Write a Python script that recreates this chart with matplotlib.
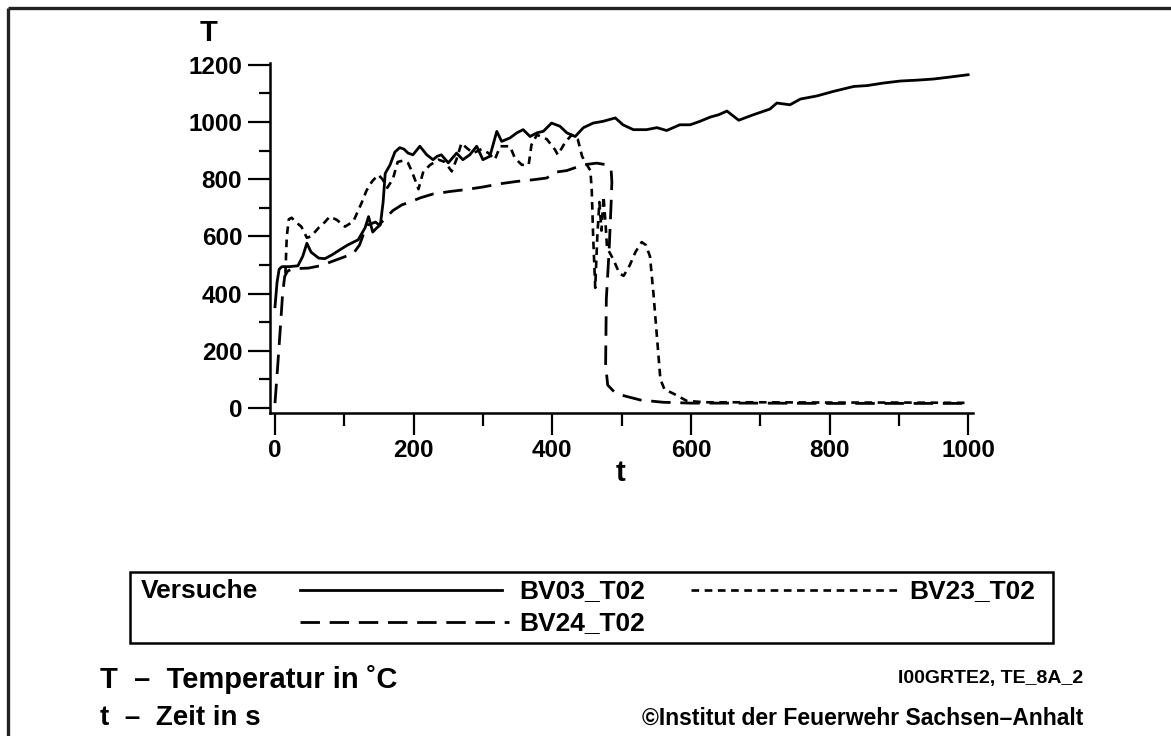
import matplotlib
matplotlib.use("Agg")
import matplotlib.pyplot as plt
from matplotlib.ticker import MultipleLocator
from matplotlib.patches import Rectangle

plt.rcParams['font.family'] = ['Liberation Sans', 'DejaVu Sans']
plt.rcParams['font.weight'] = 'bold'
plt.rcParams['lines.scale_dashes'] = False

# ---- data ----
t_bv03 = [0, 3, 6, 10, 20, 33, 40, 46, 52, 63, 72, 82, 95, 105, 120, 130, 135, 141, 147,
          152, 156, 159, 166, 173, 180, 186, 192, 199, 209, 219, 228, 234, 240, 250, 262,
          271, 281, 291, 300, 310, 320, 327, 339, 349, 358, 368, 378, 387, 399, 411, 421,
          433, 445, 459, 473, 491, 502, 517, 536, 551, 565, 584, 599, 613, 628, 640, 652,
          669, 690, 714, 724, 743, 758, 782, 806, 835, 854, 878, 902, 926, 950, 974, 1000]
T_bv03 = [354, 440, 485, 494, 494, 497, 530, 576, 545, 524, 522, 535, 555, 570, 588, 630,
          669, 615, 630, 640, 720, 820, 850, 895, 910, 905, 891, 885, 915, 885, 868, 880,
          885, 857, 891, 868, 885, 915, 868, 880, 967, 932, 944, 962, 973, 949, 962, 967,
          996, 985, 962, 949, 980, 996, 1002, 1014, 990, 973, 973, 980, 970, 990, 990, 1002,
          1017, 1025, 1038, 1006, 1025, 1045, 1066, 1060, 1080, 1091, 1107, 1124, 1127,
          1136, 1143, 1146, 1150, 1157, 1165]

t_bv23 = [15, 17, 20, 24, 30, 38, 46, 52, 63, 72, 79, 89, 101, 113, 120, 125, 132, 140,
          149, 155, 162, 170, 177, 185, 192, 197, 202, 207, 214, 224, 236, 245, 255, 262,
          269, 277, 286, 298, 308, 317, 325, 339, 346, 356, 366, 370, 378, 392, 404, 408,
          418, 428, 437, 443, 450, 455, 457, 459, 462, 465, 468, 471, 474, 477, 479, 488,
          497, 503, 512, 520, 529, 535, 541, 546, 551, 556, 562, 575, 594, 620, 700, 800,
          900, 1000]
T_bv23 = [470, 600, 660, 665, 650, 634, 595, 600, 630, 650, 669, 658, 634, 652, 690, 717,
          760, 792, 815, 800, 770, 800, 860, 865, 856, 830, 798, 765, 827, 850, 868, 860,
          827, 870, 926, 908, 891, 905, 891, 868, 915, 915, 874, 850, 850, 920, 955, 940,
          903, 885, 926, 955, 938, 880, 850, 830, 760, 600, 420, 600, 720, 620, 740, 640,
          560, 520, 470, 462, 500, 545, 580, 570, 530, 400, 250, 100, 65, 50, 25, 20, 20,
          19, 19, 18]

t_bv24 = [0, 4, 8, 11, 14, 18, 25, 48, 65, 82, 101, 113, 122, 128, 134, 145, 150, 160, 170,
          183, 197, 210, 228, 253, 277, 301, 325, 349, 373, 392, 406, 421, 445, 464, 479,
          485, 486, 485, 482, 478, 477, 480, 490, 500, 527, 560, 600, 700, 800, 900, 1000]
T_bv24 = [17, 150, 290, 400, 460, 478, 487, 489, 497, 512, 529, 540, 570, 610, 640, 650,
          640, 665, 690, 710, 722, 735, 748, 757, 764, 773, 784, 792, 798, 804, 825, 830,
          850, 856, 850, 830, 790, 720, 550, 380, 150, 80, 55, 45, 28, 20, 17, 17, 16, 16, 16]

legend_title = "Versuche"
series_names = ["BV03_T02", "BV23_T02", "BV24_T02"]
y_ticks = [0, 200, 400, 600, 800, 1000, 1200]
x_ticks = [0, 200, 400, 600, 800, 1000]

W, H = 1171, 736
fig = plt.figure(figsize=(W / 100, H / 100), dpi=100)
fig.patch.set_facecolor('white')

# overlay in pixel coordinates for frame, legend and footnotes
ov = fig.add_axes([0, 0, 1, 1])
ov.set_xlim(0, W)
ov.set_ylim(H, 0)
ov.axis('off')
ov.patch.set_visible(False)

ov.plot([8, W], [8, 8], color='#222222', lw=2.4, solid_capstyle='butt')
ov.plot([8, 8], [8, H], color='#222222', lw=2.4, solid_capstyle='butt')

ls_solid = dict(color='black', lw=2.0, linestyle='-')
ls_short = dict(color='black', lw=1.9, linestyle=(0, (5.5, 4.0)))
ls_long = dict(color='black', lw=2.0, linestyle=(0, (14, 7)))

# legend box
ov.add_patch(Rectangle((130, 572), 923, 71, fill=False, lw=1.8, edgecolor='black'))
fs_leg = 19
ov.text(141, 591, legend_title, fontsize=fs_leg, fontweight='bold', va='center', ha='left')
ov.plot([300, 502], [590, 590], **ls_solid)
ov.text(519, 591, series_names[0], fontsize=fs_leg, fontweight='bold', va='center', ha='left')
ov.plot([691, 897], [590, 590], **ls_short)
ov.text(909, 591, series_names[1], fontsize=fs_leg, fontweight='bold', va='center', ha='left')
ov.plot([300, 509], [622, 622], **ls_long)
ov.text(519, 623, series_names[2], fontsize=fs_leg, fontweight='bold', va='center', ha='left')

# footnotes
ov.text(100, 679, "T  –  Temperatur in ˚C", fontsize=21, fontweight='bold', va='center', ha='left')
ov.text(100, 718, "t  –  Zeit in s", fontsize=20, fontweight='bold', va='center', ha='left')
ov.text(1083, 678, "I00GRTE2, TE_8A_2", fontsize=14, fontweight='bold', va='center', ha='right')
ov.text(1083, 718, "©Institut der Feuerwehr Sachsen–Anhalt", fontsize=16.5, fontweight='bold',
        va='center', ha='right')

# axis titles
ov.text(209, 33, "T", fontsize=21, fontweight='bold', va='center', ha='center')
ov.text(620, 473, "t", fontsize=21, fontweight='bold', va='center', ha='center')

# main axes: left spine x=270, right end x=973, bottom spine y=413, top y=61
ax = fig.add_axes([270 / W, (H - 413) / H, (973 - 270) / W, (413 - 61) / H])
ax.patch.set_visible(False)
ax.plot(t_bv03, T_bv03, **ls_solid)
ax.plot(t_bv23, T_bv23, **ls_short)
ax.plot(t_bv24, T_bv24, **ls_long)

ax.set_xlim(-7.2, 1007)
ax.set_ylim(-17.5, 1213)
for s in ['top', 'right']:
    ax.spines[s].set_visible(False)
for s in ['left', 'bottom']:
    ax.spines[s].set_linewidth(1.8)
ax.spines['left'].set_bounds(-17.5, 1205)

ax.set_yticks(y_ticks)
ax.set_xticks(x_ticks)
ax.yaxis.set_minor_locator(MultipleLocator(100))
ax.xaxis.set_minor_locator(MultipleLocator(100))
ax.tick_params(axis='both', which='major', direction='out', length=16, width=1.6,
               labelsize=17.5, pad=4)
ax.tick_params(axis='both', which='minor', direction='out', length=8, width=1.6)
ax.tick_params(axis='x', which='major', length=16, pad=3)
ax.tick_params(axis='x', which='minor', length=9)
for lab in ax.get_xticklabels() + ax.get_yticklabels():
    lab.set_fontweight('bold')

fig.savefig("out.png", dpi=100, facecolor='white')
